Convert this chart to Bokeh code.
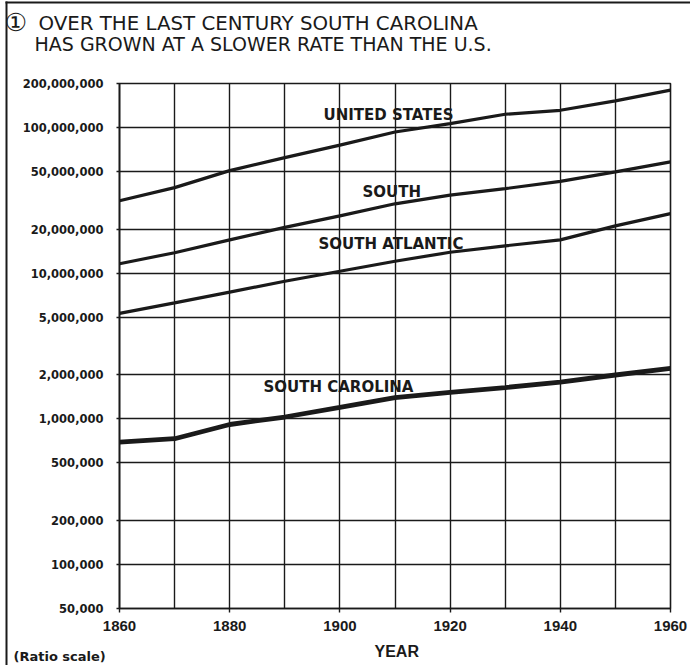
import math
from bokeh.plotting import figure
from bokeh.models import Range1d, FixedTicker, NumeralTickFormatter, Label
from bokeh.embed import file_html
from bokeh.resources import INLINE

# ---------------- data ----------------
years = [1860, 1870, 1880, 1890, 1900, 1910, 1920, 1930, 1940, 1950, 1960]
us_pop = [31.4e6, 38.6e6, 50.5e6, 62.0e6, 75.5e6, 93.0e6, 106.0e6, 123.0e6, 131.0e6, 152.0e6, 180.0e6]
south_pop = [11.6e6, 13.8e6, 16.9e6, 20.6e6, 24.7e6, 29.9e6, 34.3e6, 38.0e6, 42.6e6, 49.5e6, 58.0e6]
south_atlantic_pop = [5.3e6, 6.25e6, 7.4e6, 8.8e6, 10.3e6, 12.07e6, 13.9e6, 15.4e6, 16.9e6, 21.1e6, 25.6e6]
south_carolina_pop = [0.693e6, 0.731e6, 0.915e6, 1.03e6, 1.2e6, 1.4e6, 1.52e6, 1.64e6, 1.79e6, 2.0e6, 2.22e6]

y_tick_values = [50_000, 100_000, 200_000, 500_000, 1_000_000, 2_000_000, 5_000_000,
                 10_000_000, 20_000_000, 50_000_000, 100_000_000, 200_000_000]
x_label_years = [1860, 1880, 1900, 1920, 1940, 1960]
grid_years = years

title_mark = "\u2460"
title_line1 = "OVER THE LAST CENTURY SOUTH CAROLINA"
title_line2 = "HAS GROWN AT A SLOWER RATE THAN THE U.S."
series_labels = ["UNITED STATES", "SOUTH", "SOUTH ATLANTIC", "SOUTH CAROLINA"]
x_axis_title = "YEAR"
scale_note = "(Ratio scale)"

# ---------------- layout (page pixels, canvas at page origin) ----------------
W, H = 690, 665
FL, FR, FT, FB = 119, 670, 83, 608   # frame edges
X0, X1 = 1860, 1960
Y0, Y1 = 5e4, 2e8
INK = "#1a1a1a"
BASE_SHIFT = 0.35   # rendered baseline sits this many ems below the anchor


def xd(px):
    return X0 + (px - FL) / (FR - FL) * (X1 - X0)


def yd(py):
    return 10 ** (math.log10(Y0) + (FB - py) / (FB - FT) * (math.log10(Y1) - math.log10(Y0)))


p = figure(width=W, height=H, y_axis_type="log",
           x_range=Range1d(X0, X1), y_range=Range1d(Y0, Y1),
           output_backend="svg", toolbar_location=None,
           min_border_left=FL, min_border_right=W - FR,
           min_border_top=FT, min_border_bottom=H - FB)

p.background_fill_color = "white"
p.border_fill_color = "white"
p.outline_line_color = INK
p.outline_line_width = 1.6

# axes
p.xaxis.ticker = FixedTicker(ticks=x_label_years)
p.yaxis.ticker = FixedTicker(ticks=y_tick_values)
p.yaxis.formatter = NumeralTickFormatter(format="0,0")
for ax in (p.xaxis, p.yaxis):
    ax.axis_line_color = INK
    ax.axis_line_width = 1.6
    ax.major_tick_line_color = INK
    ax.major_tick_line_width = 1.4
    ax.major_tick_in = 0
    ax.minor_tick_line_color = None
    ax.major_label_text_color = INK
    ax.major_label_text_font_style = "bold"
p.xaxis.major_tick_out = 4
p.xaxis.major_label_standoff = 8
p.xaxis.major_label_text_font = "Liberation Sans"
p.xaxis.major_label_text_font_size = "15px"
p.yaxis.major_tick_out = 3
p.yaxis.major_label_standoff = 13
p.yaxis.major_label_text_font = "DejaVu Sans"
p.yaxis.major_label_text_font_size = "11.5px"

# grid
p.xgrid.ticker = FixedTicker(ticks=grid_years)
for g in (p.xgrid, p.ygrid):
    g.grid_line_color = INK
    g.grid_line_width = 1.4
    g.grid_line_alpha = 1.0
    g.minor_grid_line_color = None

# series
p.line(years, us_pop, line_color=INK, line_width=3.2)
p.line(years, south_pop, line_color=INK, line_width=3.2)
p.line(years, south_atlantic_pop, line_color=INK, line_width=3.2)
p.line(years, south_carolina_pop, line_color=INK, line_width=4.8)

# series labels (inside the frame)
label_pos = [(323, 119.5), (362, 197), (318, 248.5), (263, 392)]
for txt_, (px, py) in zip(series_labels, label_pos):
    p.add_layout(Label(x=xd(px), y=yd(py - BASE_SHIFT * 15), text=txt_, text_align="left",
                       text_baseline="alphabetic", text_font="DejaVu Sans",
                       text_font_style="bold", text_font_size="15px", text_color=INK))

# ---------------- transparent text layer laid over the whole canvas ----------------
ov = figure(width=W, height=H, x_range=Range1d(0, W), y_range=Range1d(H, 0),
            x_axis_type=None, y_axis_type=None,
            output_backend="svg", toolbar_location=None, min_border=0)
ov.background_fill_color = None
ov.border_fill_color = None
ov.outline_line_color = None
ov.grid.visible = False
ov.styles = {"position": "absolute", "left": "0px", "top": "0px"}


def txt(x, y, s, size, font="DejaVu Sans", style="normal"):
    ov.add_layout(Label(x=x, y=y - BASE_SHIFT * size, text=s, text_align="left",
                        text_baseline="alphabetic", text_font=font, text_font_style=style,
                        text_font_size=f"{size}px", text_color=INK))


txt(4, 31, title_mark, 25)
txt(38, 30, title_line1, 19.8)
txt(34, 50, title_line2, 19)
txt(374, 657, x_axis_title, 16, font="Liberation Sans", style="bold")
txt(13, 661, scale_note, 13, style="bold")

# printed box rules (top and left)
ov.segment(x0=[5, 6], y0=[2, 1], x1=[W, 6], y1=[2, H], line_color=INK, line_width=2)

open("out.html", "w").write(file_html([p, ov], INLINE))
